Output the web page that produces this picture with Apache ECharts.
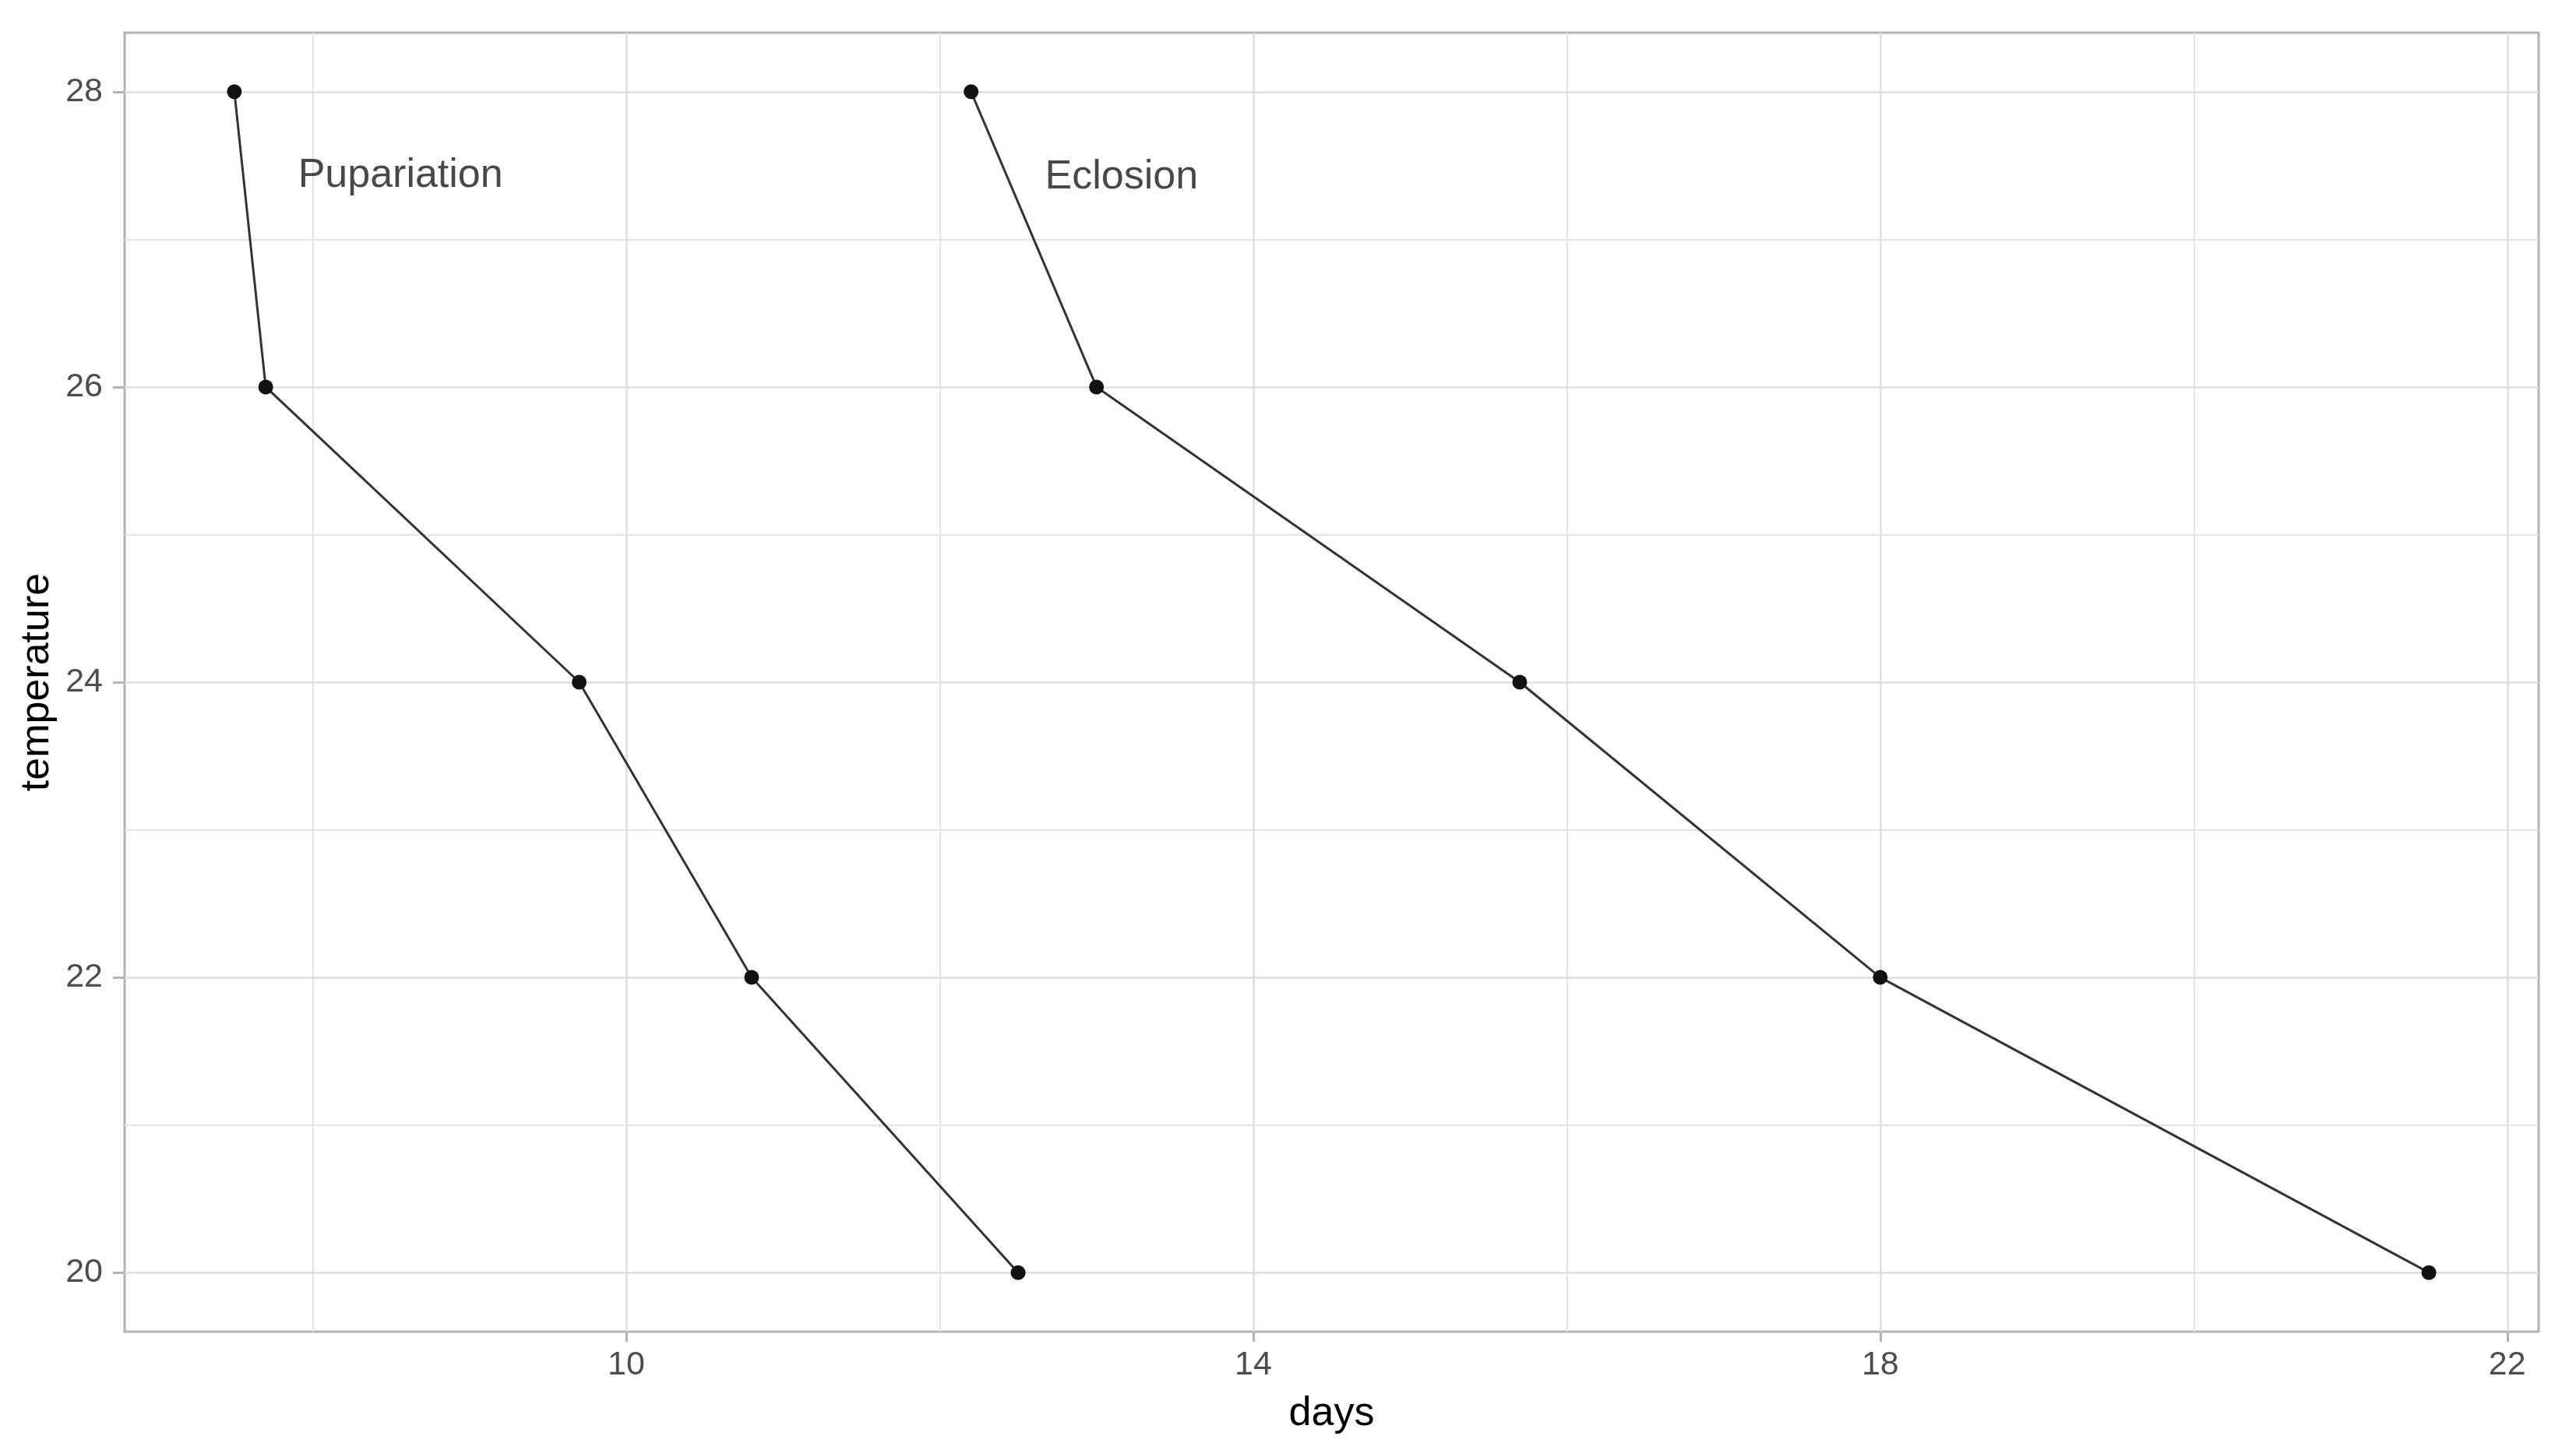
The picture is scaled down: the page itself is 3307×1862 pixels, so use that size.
<!DOCTYPE html>
<html>
<head>
<meta charset="utf-8">
<script src="https://cdn.jsdelivr.net/npm/echarts@6/dist/echarts.min.js"></script>
<style>
  html, body { margin: 0; padding: 0; background: #ffffff; }
  #chart { width: 3307px; height: 1862px; }
</style>
</head>
<body>
<div id="chart"></div>
<script>
// ---- data ----
const temperatures = [28, 26, 24, 22, 20];
const daysPupariation = [7.5, 7.7, 9.7, 10.8, 12.5];
const daysEclosion = [12.2, 13.0, 15.7, 18.0, 21.5];

const xTickValues = [10, 14, 18, 22];
const yTickValues = [20, 22, 24, 26, 28];
const xMajorGrid = [10, 14, 18, 22];
const xMinorGrid = [8, 12, 16, 20];
const yMajorGrid = [20, 22, 24, 26, 28];
const yMinorGrid = [21, 23, 25, 27];

const annotationTexts = ['Pupariation', 'Eclosion'];
const annotationDays = [8.56, 13.16];
const annotationTemps = [27.43, 27.42];

const xRange = [6.8, 22.2];
const yRange = [19.6, 28.4];

// ---- chart ----
const FONT = '"Liberation Sans", Arial, sans-serif';
const chart = echarts.init(document.getElementById('chart'), null, { renderer: 'canvas' });

function pairs(xs, ys) { return xs.map((x, i) => [x, ys[i]]); }

const gridLines = [
  ...xMinorGrid.map(v => ({ xAxis: v, lineStyle: { width: 2, color: '#e4e4e4' } })),
  ...yMinorGrid.map(v => ({ yAxis: v, lineStyle: { width: 2, color: '#e4e4e4' } })),
  ...xMajorGrid.map(v => ({ xAxis: v, lineStyle: { width: 2.5, color: '#dedede' } })),
  ...yMajorGrid.map(v => ({ yAxis: v, lineStyle: { width: 2.5, color: '#dedede' } }))
];

const option = {
  animation: false,
  backgroundColor: '#ffffff',
  grid: {
    left: 160, right: 48, top: 42, bottom: 152,
    show: true, borderColor: '#b3b3b3', borderWidth: 3,
    backgroundColor: 'transparent'
  },
  xAxis: {
    type: 'value',
    min: xRange[0], max: xRange[1],
    name: 'days',
    nameLocation: 'middle',
    nameGap: 80,
    nameTextStyle: { fontFamily: FONT, fontSize: 52, color: '#000000' },
    axisLine: { show: false },
    splitLine: { show: false },
    axisTick: { show: true, length: 13, customValues: xTickValues, lineStyle: { color: '#b3b3b3', width: 3 } },
    axisLabel: { show: true, customValues: xTickValues, margin: 22, fontFamily: FONT, fontSize: 43, color: '#4d4d4d' }
  },
  yAxis: {
    type: 'value',
    min: yRange[0], max: yRange[1],
    name: 'temperature',
    nameLocation: 'middle',
    nameGap: 86,
    nameRotate: 90,
    nameTextStyle: { fontFamily: FONT, fontSize: 52, color: '#000000' },
    axisLine: { show: false },
    splitLine: { show: false },
    axisTick: { show: true, length: 15, customValues: yTickValues, lineStyle: { color: '#b3b3b3', width: 3 } },
    axisLabel: { show: true, customValues: yTickValues, margin: 28, fontFamily: FONT, fontSize: 43, color: '#4d4d4d' }
  },
  series: [
    {
      type: 'line',
      data: [],
      silent: true,
      z: 1,
      markLine: {
        silent: true,
        symbol: ['none', 'none'],
        label: { show: false },
        lineStyle: { type: 'solid' },
        data: gridLines,
        animation: false
      }
    },
    {
      name: 'Pupariation',
      type: 'line',
      z: 5,
      data: pairs(daysPupariation, temperatures),
      symbol: 'circle',
      symbolSize: 19,
      itemStyle: { color: '#111111' },
      lineStyle: { color: '#333333', width: 3 }
    },
    {
      name: 'Eclosion',
      type: 'line',
      z: 5,
      data: pairs(daysEclosion, temperatures),
      symbol: 'circle',
      symbolSize: 19,
      itemStyle: { color: '#111111' },
      lineStyle: { color: '#333333', width: 3 }
    },
    {
      type: 'scatter',
      z: 6,
      symbolSize: 0,
      data: annotationTexts.map((t, i) => ({ name: t, value: [annotationDays[i], annotationTemps[i]] })),
      label: {
        show: true,
        position: 'inside',
        formatter: p => p.name,
        fontFamily: FONT,
        fontSize: 52,
        color: '#1a1a1a'
      }
    }
  ]
};

chart.setOption(option);
</script>
</body>
</html>
